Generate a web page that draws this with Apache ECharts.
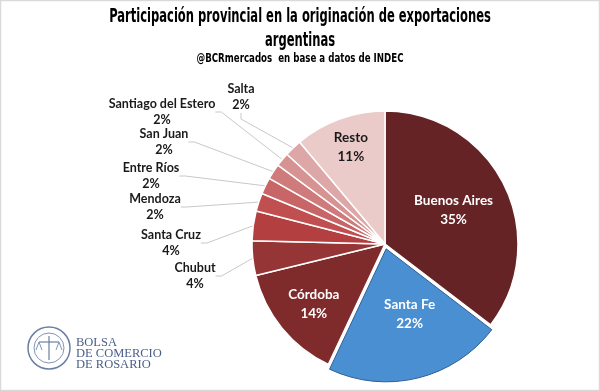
<!DOCTYPE html>
<html>
<head>
<meta charset="utf-8">
<script src="https://cdn.jsdelivr.net/npm/echarts@6/dist/echarts.min.js"></script>
<style>html,body{margin:0;padding:0;background:#fff}#c{width:600px;height:391px}</style>
</head>
<body>
<div id="c"></div>
<script>
var provinces = ['Buenos Aires','Santa Fe','Córdoba','Chubut','Santa Cruz','Mendoza','Entre Ríos','San Juan','Santiago del Estero','Salta','Resto'];
var shares = [35.4, 21.6, 14.2, 4.2, 3.6, 2.2, 2.0, 1.9, 1.7, 2.1, 11.1];
var colors = ['#662325','#4a8fd1','#7f2a2b','#963536','#b33f40','#c14f50','#c86566','#cf7b7b','#d79292','#dea7a7','#ebcaca'];
var titleLines = ['Participación provincial en la originación de exportaciones', 'argentinas'];
var subtitleText = '@BCRmercados  en base a datos de INDEC';

// layout (not data): label placement
var insideSet = {'Buenos Aires':1,'Santa Fe':1,'Córdoba':1,'Resto':1};
var insideRadialFactor = {'Buenos Aires':1.1,'Santa Fe':1.0,'Córdoba':1.36,'Resto':1.48};
var insideNudge = {'Buenos Aires':[0,0],'Santa Fe':[7,-2],'Córdoba':[2,0],'Resto':[1,0]};
var outerLabelCenter = {
  'Salta': [241, 97], 'Santiago del Estero': [162, 112], 'San Juan': [164, 142],
  'Entre Ríos': [151, 176], 'Mendoza': [155, 207], 'Santa Cruz': [171, 243], 'Chubut': [195, 276]
};

var CX = 385, CY = 244, R = 133;
var chart = echarts.init(document.getElementById('c'));
var data = provinces.map(function(n, i){
  var inside = !!insideSet[n];
  var item = {
    name: n, value: shares[i],
    itemStyle: {color: colors[i]},
    label: inside ? {position: 'inside', color: (n === 'Resto') ? '#1a1a1a' : '#ffffff', fontSize: 13.5, lineHeight: 19}
                  : {position: 'outside', color: '#1a1a1a', fontSize: 12.5, lineHeight: 16},
    labelLine: {show: !inside}
  };
  if (n === 'Santa Fe') {
    item.selected = true;
    item.itemStyle = {color: colors[i], borderColor: '#2f5f93', borderWidth: 1};
    item.select = {itemStyle: {color: colors[i], borderColor: '#2f5f93', borderWidth: 1}};
  }
  return item;
});

var titleFont = 'bold 19px "DejaVu Sans Condensed", "DejaVu Sans", sans-serif';
chart.setOption({
  animation: false,
  graphic: [
    {type: 'rect', shape: {x: 0.5, y: 0.5, width: 599, height: 390}, style: {fill: 'none', stroke: '#d9d9d9', lineWidth: 1.5}, silent: true},
    {type: 'text', x: 300, y: 17, scaleX: 0.675, style: {text: titleLines[0], font: titleFont, textAlign: 'center', textVerticalAlign: 'middle', fill: '#000'}},
    {type: 'text', x: 300, y: 41, scaleX: 0.675, style: {text: titleLines[1], font: titleFont, textAlign: 'center', textVerticalAlign: 'middle', fill: '#000'}},
    {type: 'text', x: 300, y: 59, scaleX: 0.77, style: {text: subtitleText, font: 'bold 12.5px "DejaVu Sans Condensed", "DejaVu Sans", sans-serif', textAlign: 'center', textVerticalAlign: 'middle', fill: '#000'}},
    {type: 'circle', shape: {cx: 49, cy: 348, r: 21}, style: {fill: 'none', stroke: '#6b7fa3', lineWidth: 1.5}},
    {type: 'circle', shape: {cx: 49, cy: 348, r: 15}, style: {fill: 'none', stroke: '#8193b3', lineWidth: 1}},
    {type: 'line', shape: {x1: 49, y1: 336, x2: 49, y2: 360}, style: {stroke: '#6b7fa3', lineWidth: 1.2}},
    {type: 'line', shape: {x1: 39, y1: 342, x2: 59, y2: 342}, style: {stroke: '#6b7fa3', lineWidth: 1.2}},
    {type: 'polyline', shape: {points: [[36,350],[39,342],[42,350]]}, style: {fill: 'none', stroke: '#8193b3', lineWidth: 1}},
    {type: 'polyline', shape: {points: [[56,350],[59,342],[62,350]]}, style: {fill: 'none', stroke: '#8193b3', lineWidth: 1}},
    {type: 'text', left: 76, top: 336, style: {text: 'BOLSA\nDE COMERCIO\nDE ROSARIO', fontFamily: 'Liberation Serif', fontSize: 12.5, lineHeight: 11, fill: '#4a5e88'}}
  ],
  series: [{
    type: 'pie',
    center: [CX, CY],
    radius: R,
    startAngle: 90,
    clockwise: true,
    selectedMode: 'single',
    selectedOffset: 5,
    avoidLabelOverlap: false,
    itemStyle: {borderColor: '#ffffff', borderWidth: 1.5},
    label: {
      formatter: function(p){ return p.name + '\n' + Math.round(p.value) + '%'; },
      fontFamily: 'Lato', fontWeight: 'bold', align: 'center'
    },
    labelLine: {length: 30, length2: 6, lineStyle: {color: '#c8c8c8', width: 1}},
    labelLayout: function(p){
      var n = provinces[p.dataIndex];
      if (insideSet[n]) {
        var lx = p.labelRect.x + p.labelRect.width/2, ly = p.labelRect.y + p.labelRect.height/2;
        var f = insideRadialFactor[n], d = insideNudge[n];
        return {dx: (lx - CX) * (f - 1) + d[0], dy: (ly - CY) * (f - 1) + d[1]};
      }
      var c = outerLabelCenter[n];
      return {x: c[0], y: c[1], align: 'center', verticalAlign: 'middle'};
    },
    data: data
  }]
});
</script>
</body>
</html>
